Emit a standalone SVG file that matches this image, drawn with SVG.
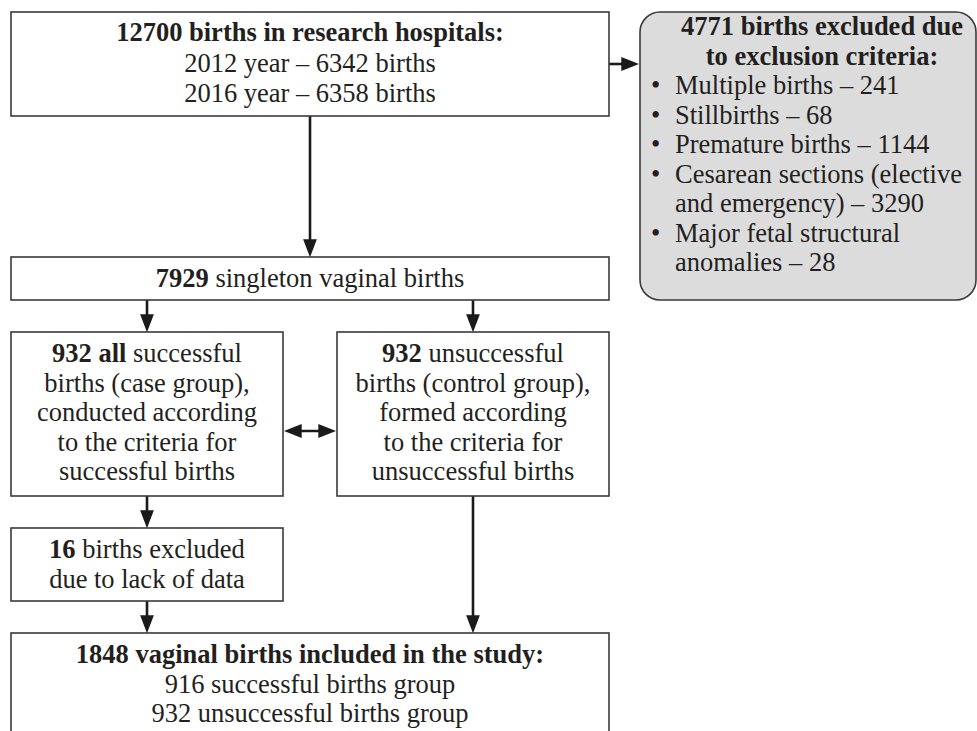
<svg xmlns="http://www.w3.org/2000/svg" width="977" height="731" viewBox="0 0 977 731">
<defs>
<style>
.box{fill:#ffffff;stroke:#3a3a3a;stroke-width:1.6}
.gbox{fill:#dcdcdd;stroke:#3a3a3a;stroke-width:1.6}
text{font-family:"Liberation Serif","Times New Roman",serif;font-size:26.5px;fill:#231f20}
.c{text-anchor:middle}
.b{font-weight:bold}
.con{stroke:#1a1a1a;stroke-width:2.6;fill:none}
</style>
<marker id="ah" markerUnits="userSpaceOnUse" markerWidth="18" markerHeight="14" viewBox="0 0 17 13" refX="12" refY="6.5" orient="auto-start-reverse">
<path d="M0,0 L17,6.5 L0,13 Z" fill="#1a1a1a"/>
</marker>
</defs>
<rect width="977" height="731" fill="#ffffff"/>

<g id="connectors">
<line class="con" x1="609" y1="64" x2="634" y2="64" marker-end="url(#ah)"/>
<line class="con" x1="310" y1="116" x2="310" y2="252" marker-end="url(#ah)"/>
<line class="con" x1="147" y1="300" x2="147" y2="327" marker-end="url(#ah)"/>
<line class="con" x1="473" y1="300" x2="473" y2="327" marker-end="url(#ah)"/>
<line class="con" x1="289" y1="431" x2="331" y2="431" marker-start="url(#ah)" marker-end="url(#ah)"/>
<line class="con" x1="147" y1="496" x2="147" y2="523" marker-end="url(#ah)"/>
<line class="con" x1="147" y1="601" x2="147" y2="628" marker-end="url(#ah)"/>
<line class="con" x1="473" y1="496" x2="473" y2="628" marker-end="url(#ah)"/>
</g>

<g id="n-total">
<rect class="box" x="11" y="12" width="598" height="104"/>
<text class="c b" x="310" y="41">12700 births in research hospitals:</text>
<text class="c" x="310" y="72">2012 year – 6342 births</text>
<text class="c" x="310" y="102">2016 year – 6358 births</text>
</g>

<g id="n-excluded">
<rect class="gbox" x="640" y="12" width="336" height="288" rx="20" ry="20"/>
<text class="c b" x="822" y="35">4771 births excluded due</text>
<text class="c b" x="822" y="64.5">to exclusion criteria:</text>
<text x="651" y="94">•</text><text x="675" y="94">Multiple births – 241</text>
<text x="651" y="123.5">•</text><text x="675" y="123.5">Stillbirths – 68</text>
<text x="651" y="153">•</text><text x="675" y="153">Premature births – 1144</text>
<text x="651" y="182.5">•</text><text x="675" y="182.5">Cesarean sections (elective</text>
<text x="675" y="212">and emergency) – 3290</text>
<text x="651" y="241.5">•</text><text x="675" y="241.5">Major fetal structural</text>
<text x="675" y="271">anomalies – 28</text>
</g>

<g id="n-singleton">
<rect class="box" x="11" y="257" width="598" height="43"/>
<text class="c" x="310" y="287"><tspan class="b">7929</tspan> singleton vaginal births</text>
</g>

<g id="n-case">
<rect class="box" x="11" y="332" width="272" height="164"/>
<text class="c" x="147" y="362"><tspan class="b">932 all</tspan> successful</text>
<text class="c" x="147" y="391.5">births (case group),</text>
<text class="c" x="147" y="421">conducted according</text>
<text class="c" x="147" y="450.5">to the criteria for</text>
<text class="c" x="147" y="480">successful births</text>
</g>

<g id="n-control">
<rect class="box" x="337" y="332" width="272" height="164"/>
<text class="c" x="473" y="362"><tspan class="b">932</tspan> unsuccessful</text>
<text class="c" x="473" y="391.5">births (control group),</text>
<text class="c" x="473" y="421">formed according</text>
<text class="c" x="473" y="450.5">to the criteria for</text>
<text class="c" x="473" y="480">unsuccessful births</text>
</g>

<g id="n-lack">
<rect class="box" x="11" y="528" width="272" height="73"/>
<text class="c" x="147" y="558"><tspan class="b">16</tspan> births excluded</text>
<text class="c" x="147" y="588">due to lack of data</text>
</g>

<g id="n-included">
<rect class="box" x="11" y="633" width="598" height="110"/>
<text class="c b" x="310" y="663">1848 vaginal births included in the study:</text>
<text class="c" x="310" y="693">916 successful births group</text>
<text class="c" x="310" y="722">932 unsuccessful births group</text>
</g>
</svg>
